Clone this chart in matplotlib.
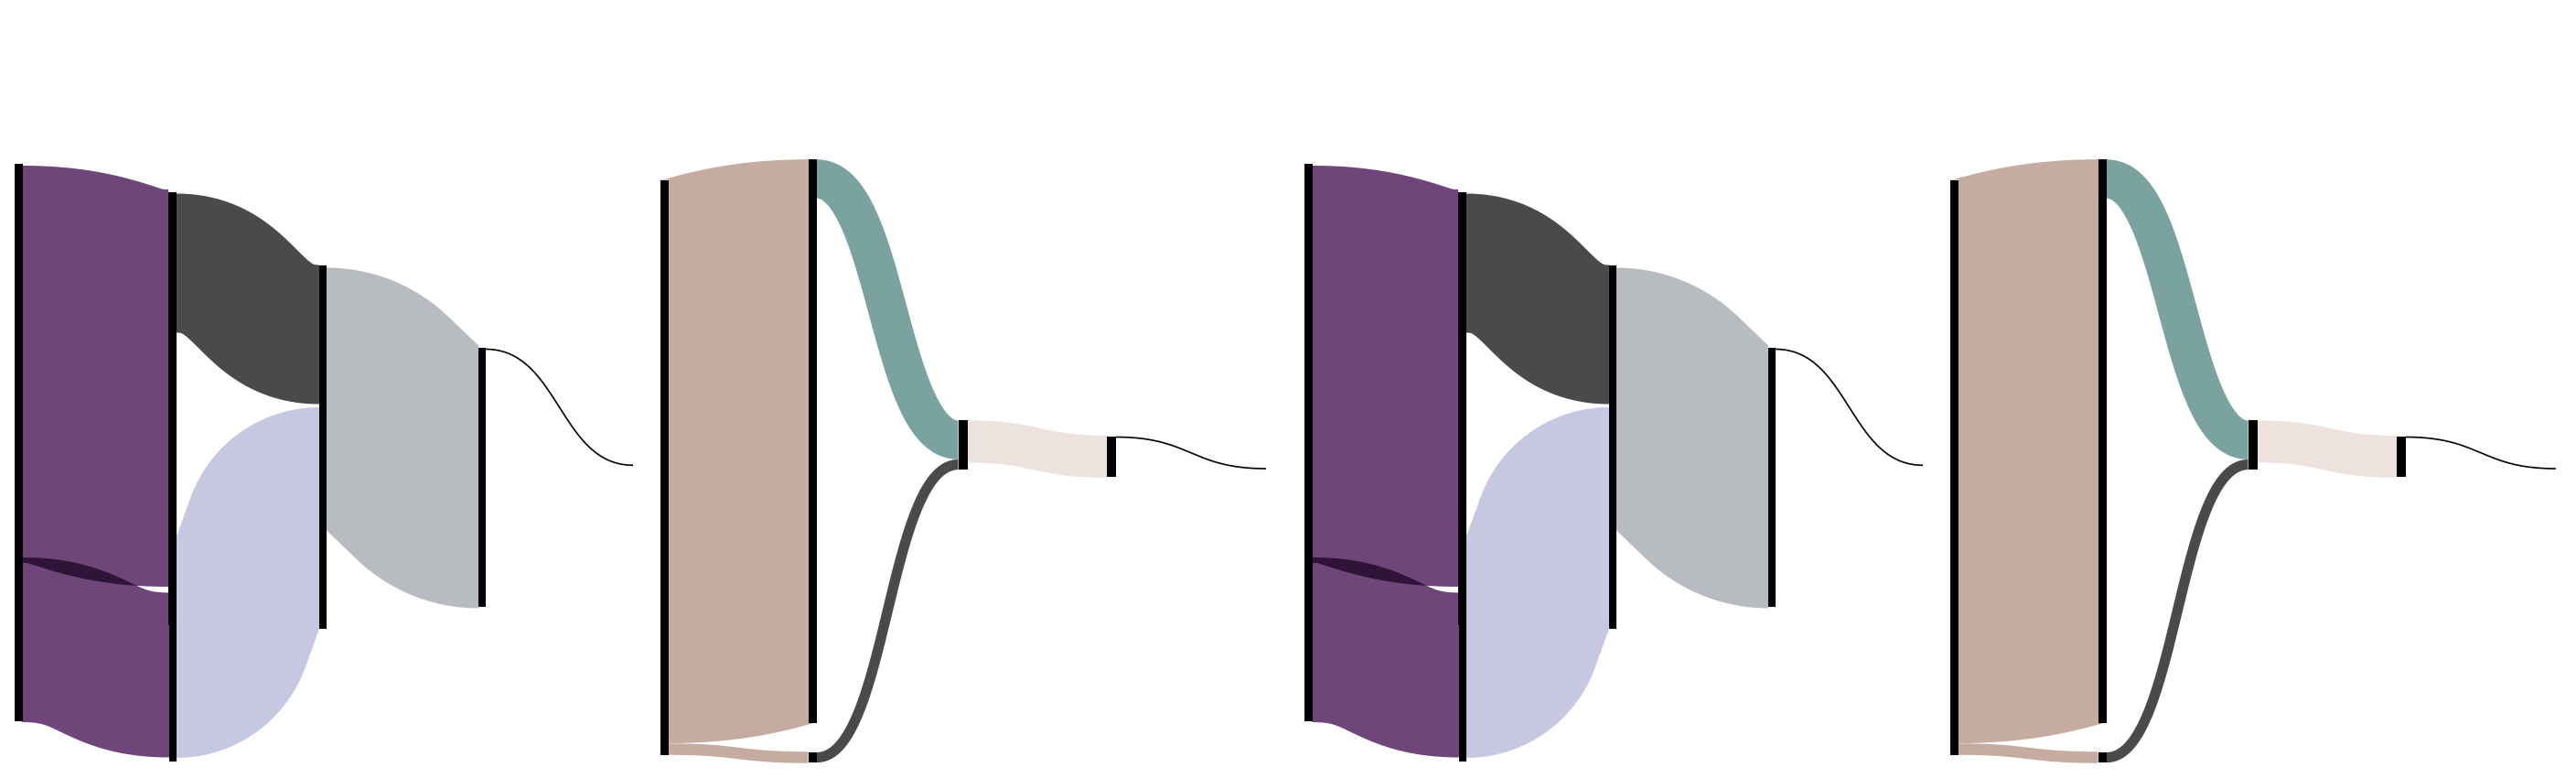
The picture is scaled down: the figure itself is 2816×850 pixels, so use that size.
import numpy as np
import matplotlib
matplotlib.use("Agg")
import matplotlib.pyplot as plt
from matplotlib.patches import Polygon
from matplotlib.colors import to_rgb

# two sankey diagrams, each drawn twice side by side
# units are canvas pixels (y grows downward)

# ---- diagram A: nodes (left, right, top, bottom) ----
a_node_left = [16, 184, 185, 349, 523]
a_node_right = [24.5, 192.5, 193, 357, 531]
a_node_top = [179, 210, 681, 290, 380]
a_node_bottom = [788, 683, 832, 687, 663]

# links: source node, target node, flow width, y at source, y at target
a_src = [0, 0, 1, 2, 3, 4]
a_tgt = [1, 2, 3, 3, 4, -1]
a_value = [434, 180, 152, 242, 287, 1.6]
a_y_src = [398, 699, 287.5, 707, 436, 381.5]
a_y_tgt = [424, 737.5, 365.5, 566, 521, 508.3]
a_colors = ["#6e4679", "#6e4679", "#4a4a4a", "#c7c7e2", "#b8bbbf", "#000000"]
a_end_x = 692

# ---- diagram B ----
b_node_left = [721.7, 884, 883.5, 1047.5, 1210]
b_node_right = [730.7, 893, 893, 1057.5, 1220]
b_node_top = [197, 174.3, 821.7, 459.4, 476.5]
b_node_bottom = [825, 790, 833.3, 513.2, 521.3]

b_src = [0, 0, 1, 2, 3, 4]
b_tgt = [1, 2, 3, 3, 4, -1]
b_value = [616, 12.5, 42.4, 11.2, 46, 1.6]
b_y_src = [504, 818.5, 195.5, 827.5, 482.4, 477.5]
b_y_tgt = [482.2, 827.5, 480.7, 507.6, 498.9, 512]
b_colors = ["#c6aca0", "#c6aca0", "#7aa39f", "#4a4a4a", "#ede2de", "#000000"]
b_end_x = 1384

copy_shift = 1410


def bezier_band(x0, x1, y0, y1, w, n=600):
    # thick band along the usual horizontal sankey bezier
    t = np.linspace(0, 1, n)
    xm = (x0 + x1) / 2
    bx = (1-t)**3*x0 + 3*(1-t)**2*t*xm + 3*(1-t)*t**2*xm + t**3*x1
    by = (1-t)**3*y0 + 3*(1-t)**2*t*y0 + 3*(1-t)*t**2*y1 + t**3*y1
    dx = 3*(1-t)**2*(xm-x0) + 3*t**2*(x1-xm)
    dy = 6*(1-t)*t*(y1-y0)
    ln = np.hypot(dx, dy)
    nx, ny = -dy/ln, dx/ln
    h = w / 2
    upper = np.column_stack([bx - h*nx, by - h*ny])
    lower = np.column_stack([bx + h*nx, by + h*ny])
    return np.vstack([upper, lower[::-1]]), bx, by


def edge(xa, ya, xb, yb, ra, rb, n=150):
    # arc - straight - arc curve, horizontal at both ends
    dx = xb - xa
    dy = yb - ya
    sg = np.sign(dy)
    d = abs(dy)
    cap = (dx*dx + d*d) / (2*d) * 0.999
    rr = ra + rb
    if rr > cap:
        ra, rb = ra*cap/rr, rb*cap/rr
        rr = cap
    b = d - rr
    th = np.arctan2(b, dx) + np.arcsin(min(1.0, rr/np.hypot(dx, b)))
    p = np.linspace(0, th, n)
    xa_ = xa + ra*np.sin(p)
    ya_ = ra*(1 - np.cos(p))
    p = p[::-1]
    xb_ = xb - rb*np.sin(p)
    yb_ = d - rb*(1 - np.cos(p))
    return np.concatenate([xa_, xb_]), ya + sg*np.concatenate([ya_, yb_])


def arc_band(x0, x1, y0, y1, w):
    # very thick links bend round circular arcs instead
    h = w / 2
    dx, d = x1 - x0, abs(y1 - y0)
    r2 = (dx*dx + d*d) / (4*d)
    r = 0.8 * max(min(r2, 2*r2 - h), 0)
    outer, inner = r + h, max(r - h, 0)
    if y1 >= y0:
        top = edge(x0, y0 - h, x1, y1 - h, outer, inner)
        bot = edge(x0, y0 + h, x1, y1 + h, inner, outer)
    else:
        top = edge(x0, y0 - h, x1, y1 - h, inner, outer)
        bot = edge(x0, y0 + h, x1, y1 + h, outer, inner)
    xs = np.concatenate([top[0], bot[0][::-1]])
    ys = np.concatenate([top[1], bot[1][::-1]])
    return np.column_stack([xs, ys])


def draw_diagram(ax, nl, nr, nt, nb, src, tgt, val, ys, yt, cols, end_x, shift):
    shapes = []
    for s_, t_, v, y0, y1, c in zip(src, tgt, val, ys, yt, cols):
        x0 = nr[s_] + shift
        x1 = (nl[t_] if t_ >= 0 else end_x) + shift
        poly, bx, by = bezier_band(x0, x1, y0, y1, v)
        if v < 3:
            ax.plot(bx, by, color=c, lw=1.2, solid_capstyle="butt")
            continue
        # tightest bend of the bezier centre line
        r_min = 0.375 * (x1 - x0)**2 / max(abs(y1 - y0), 1e-6)
        if v / 2 > r_min:
            poly = arc_band(x0, x1, y0, y1, v)
        p = Polygon(poly, closed=True, facecolor=c, edgecolor="none")
        ax.add_patch(p)
        shapes.append((poly, c, p))
    # links blend by multiplying where they overlap
    for i in range(len(shapes)):
        for j in range(i+1, len(shapes)):
            _, ci, patch_i = shapes[i]
            pj, cj, _ = shapes[j]
            mix = tuple(np.array(to_rgb(ci)) * np.array(to_rgb(cj)))
            q = Polygon(pj, closed=True, facecolor=mix, edgecolor="none")
            ax.add_patch(q)
            q.set_clip_path(patch_i)
    for l, r, t, b in zip(nl, nr, nt, nb):
        ax.bar(l + shift, b - t, width=r - l, bottom=t, align="edge",
               color="black", linewidth=0)


fig = plt.figure(figsize=(28.16, 8.5), dpi=100)
ax = fig.add_axes([0, 0, 1, 1])
for sh in (0, copy_shift):
    draw_diagram(ax, a_node_left, a_node_right, a_node_top, a_node_bottom,
                 a_src, a_tgt, a_value, a_y_src, a_y_tgt, a_colors, a_end_x, sh)
    draw_diagram(ax, b_node_left, b_node_right, b_node_top, b_node_bottom,
                 b_src, b_tgt, b_value, b_y_src, b_y_tgt, b_colors, b_end_x, sh)
ax.set_xlim(0, 2816)
ax.set_ylim(850, 0)
ax.axis("off")
fig.savefig("out.png", dpi=100, facecolor="white")
